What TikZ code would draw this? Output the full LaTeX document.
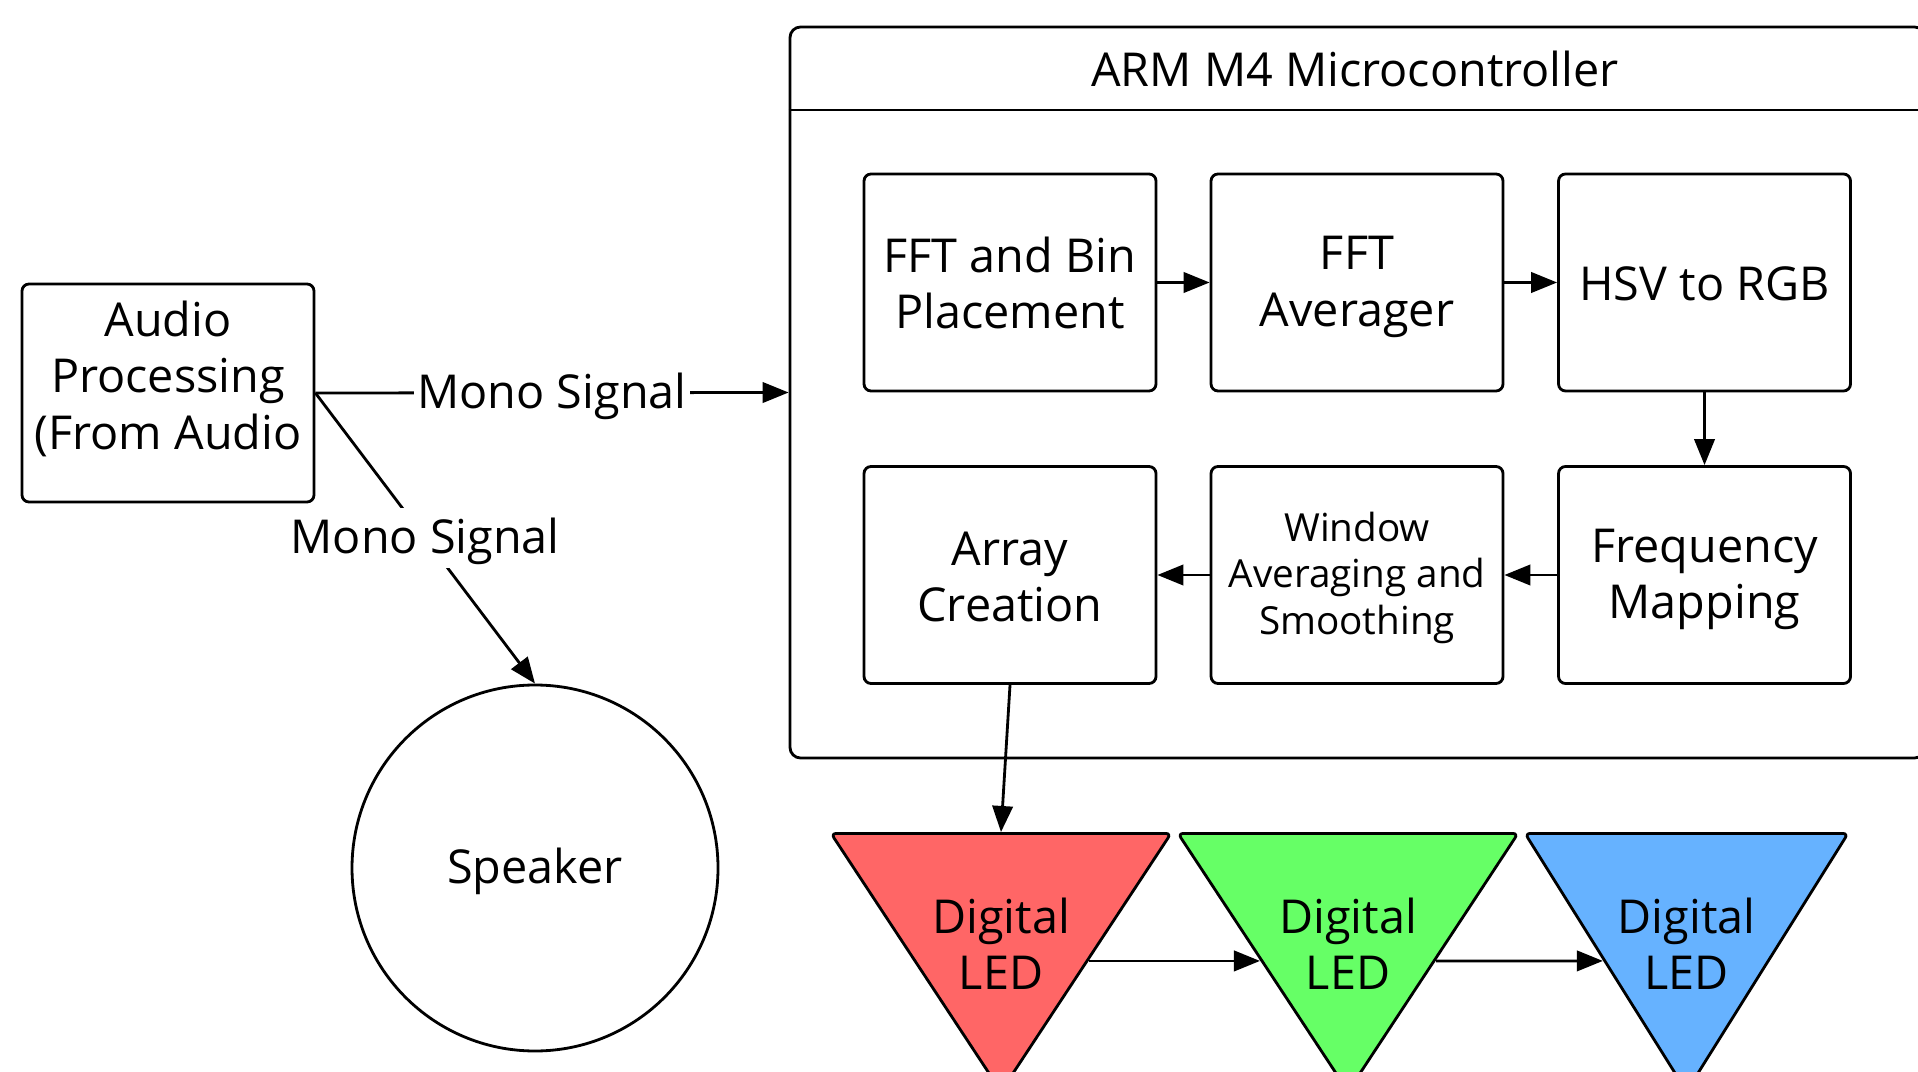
\documentclass[tikz,border=0pt]{standalone}
\usepackage{fontspec}
\setmainfont{Open Sans}
\usetikzlibrary{shapes.geometric,arrows.meta,calc}
\newcommand{\tstrut}{\rule[-0.12em]{0pt}{1.02em}}

\begin{document}
\begin{tikzpicture}[
	font=\fontsize{13.3}{16}\selectfont,
	line width=0.8pt,
	>={Triangle[length=7.4pt, width=5.8pt]},
	every node/.style={execute at begin node=\tstrut, execute at end node=\tstrut},
	blk/.style={draw, rectangle, rounded corners=2pt, minimum width=2.92cm, minimum height=2.17cm, align=center},
	led/.style={draw, isosceles triangle, isosceles triangle stretches, shape border rotate=270, rounded corners=1.5pt, minimum width=3.4cm, minimum height=2.58cm, inner sep=0pt},
	lbl/.style={fill=white, inner sep=1pt}
]
	\useasboundingbox (0, 0) rectangle (19.18, -10.72);
	\clip (0, 0) rectangle (19.18, -10.72);
	% audio side
	\node[blk, minimum height=2.18cm] (audio)at(1.68, -3.93) {};
	\node[align=center] (audiotxt)at(1.68, -3.755) {\tstrut Audio\\\tstrut Processing\\\tstrut (From Audio};
	\node[draw, circle, minimum size=3.66cm] (spk)at(5.35, -8.68) {Speaker};
	% microcontroller
	\node[draw, rectangle, rounded corners=3pt, minimum width=11.35cm, minimum height=7.31cm] (mcu)at(13.575, -3.925) {};
	\node (mcutitle)at(13.55, -0.68) {ARM M4 Microcontroller};
	\coordinate (hdr)at(0, -1.10);
	\draw (mcu.west |- hdr) -- (mcu.east |- hdr);
	\node[blk] (fft)at(10.10, -2.825) {\tstrut FFT and Bin\\\tstrut Placement};
	\node[blk] (avg)at(13.57, -2.825) {\tstrut FFT\\\tstrut Averager};
	\node[blk] (hsv)at(17.045, -2.825) {HSV to RGB};
	\node[blk] (freq)at(17.045, -5.75) {\tstrut Frequency\\\tstrut Mapping};
	\node[blk, font=\fontsize{11}{13.2}\selectfont] (win)at(13.57, -5.75) {\tstrut Window\\\tstrut Averaging and\\\tstrut Smoothing};
	\node[blk] (arr)at(10.10, -5.75) {\tstrut Array\\\tstrut Creation};
	% leds
	\node[led, fill={rgb,255:red,255;green,102;blue,102}, anchor=north] (led1)at(10.01, -8.32) {};
	\node[led, fill={rgb,255:red,102;green,255;blue,102}, anchor=north] (led2)at(13.48, -8.32) {};
	\node[led, fill={rgb,255:red,102;green,178;blue,255}, minimum width=3.23cm, anchor=north] (led3)at(16.865, -8.32) {};
	\node[align=center] (led1txt)at(10.01, -9.43) {\tstrut Digital\\\tstrut LED};
	\node[align=center] (led2txt)at(13.48, -9.43) {\tstrut Digital\\\tstrut LED};
	\node[align=center] (led3txt)at(16.865, -9.43) {\tstrut Digital\\\tstrut LED};
	% connectors
	\draw[->] (audio.east) -- (mcu.west) node[midway, lbl] {Mono Signal};
	\draw[->] (audio.east) -- (spk.north) node[midway, lbl] {Mono Signal};
	\draw[->] (fft) -- (avg);
	\draw[->] (avg) -- (hsv);
	\draw[->] (hsv) -- (freq);
	\draw[->] (freq) -- (win);
	\draw[->] (win) -- (arr);
	\draw[->] (arr.south) -- (led1.north);
	\draw[->] ($(led1.left corner)!0.49!(led1.apex)$) -- ($(led2.right corner)!0.49!(led2.apex)$);
	\draw[->] ($(led2.left corner)!0.49!(led2.apex)$) -- ($(led3.right corner)!0.49!(led3.apex)$);
\end{tikzpicture}
\end{document}
